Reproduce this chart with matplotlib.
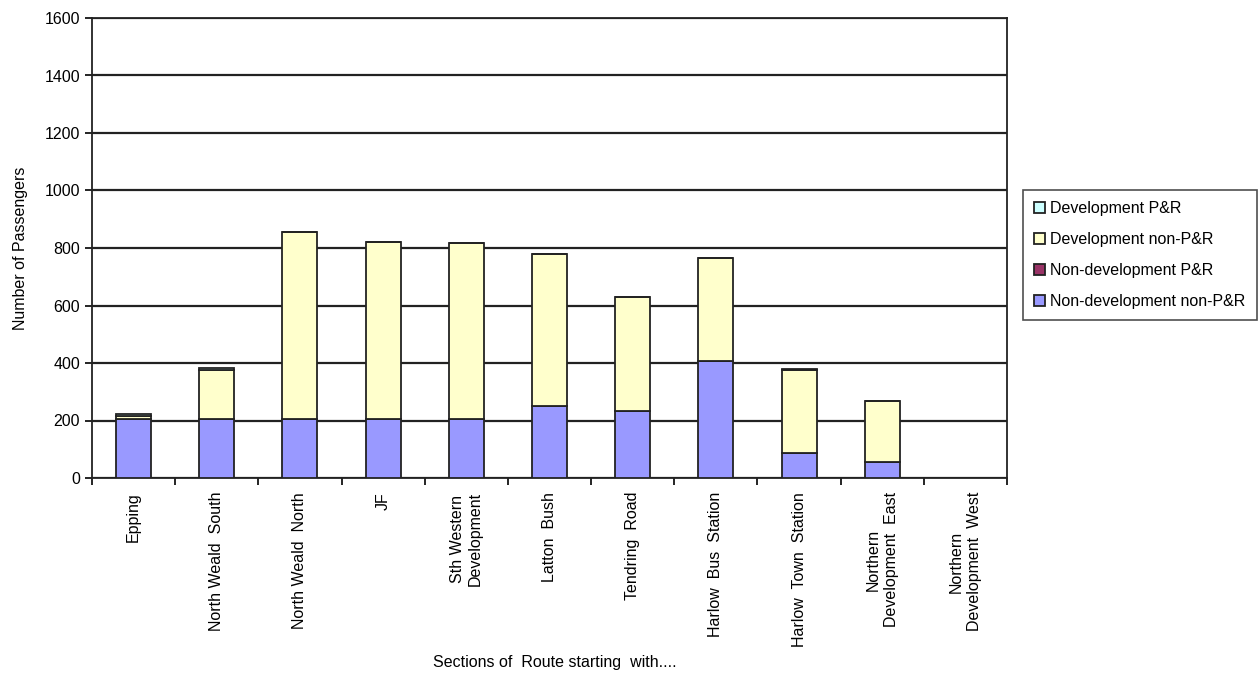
import matplotlib.pyplot as plt
import numpy as np

plt.rcParams['font.family'] = ['Liberation Sans', 'DejaVu Sans']

# sections of route
sections = ["Epping", "North Weald  South", "North Weald  North", "JF",
            "Sth Western\nDevelopment", "Latton  Bush", "Tendring  Road",
            "Harlow  Bus  Station", "Harlow  Town  Station",
            "Northern\nDevelopment  East", "Northern\nDevelopment  West"]
# passengers per series
nondev_nonpr = [205, 205, 205, 205, 205, 250, 233, 407, 87, 56, 0]
nondev_pr = [0, 0, 0, 0, 0, 0, 0, 0, 0, 0, 0]
dev_nonpr = [12, 172, 651, 616, 612, 529, 397, 358, 287, 212, 0]
dev_pr = [4, 5, 0, 0, 0, 0, 0, 0, 5, 0, 0]

series_names = ["Development P&R", "Development non-P&R",
                "Non-development P&R", "Non-development non-P&R"]
colors = ["#CCFFFF", "#FFFFCC", "#993366", "#9999FF"]

fig = plt.figure(figsize=(12.59, 6.77), dpi=100)
ax = fig.add_axes([92/1259, 1-478/677, 915/1259, 460/677])

x = np.arange(len(sections))
w = 0.42
bottom = np.zeros(len(sections))
stack = [nondev_nonpr, nondev_pr, dev_nonpr, dev_pr]
stack_colors = [colors[3], colors[2], colors[1], colors[0]]
handles = []
for vals, c in zip(stack, stack_colors):
    v = np.array(vals, dtype=float)
    b = ax.bar(x, v, w, bottom=bottom, color=c, edgecolor="#222222",
               linewidth=1.3, zorder=3)
    handles.append(b)
    bottom += v

ax.set_xlim(-0.5, len(sections) - 0.5)
ax.set_ylim(0, 1600)
ax.set_yticks(range(0, 1601, 200))
ax.yaxis.grid(True, color="#222222", linewidth=1.6, zorder=0)
ax.set_axisbelow(True)

ax.set_xticks(x)
ax.set_xticklabels(sections, rotation=90, fontsize=11.5, va="top",
                   linespacing=1.25)
ax.set_xticks(np.arange(-0.5, len(sections)), minor=True)
ax.tick_params(axis="x", which="major", length=0, pad=10)
ax.tick_params(axis="x", which="minor", length=5, width=1.2, direction="out")
ax.tick_params(axis="y", length=5, width=1.2, labelsize=11.5)

for s in ax.spines.values():
    s.set_color("#222222")
    s.set_linewidth(1.3)

ax.set_ylabel("Number of Passengers", fontsize=11.5, labelpad=12)
fig.text(555/1259, 1-662/677, "Sections of  Route starting  with....",
         fontsize=11.5, ha="center", va="center")

leg = fig.legend([handles[3], handles[2], handles[1], handles[0]],
                 series_names, loc="upper left",
                 bbox_to_anchor=(1015/1259, 1-182/677),
                 fontsize=11.5, frameon=True, fancybox=False,
                 edgecolor="#222222", handlelength=0.7, handleheight=0.7,
                 handletextpad=0.3, labelspacing=1.0, borderpad=0.7)
leg.get_frame().set_linewidth(1.2)

fig.savefig("out.png", dpi=100)
